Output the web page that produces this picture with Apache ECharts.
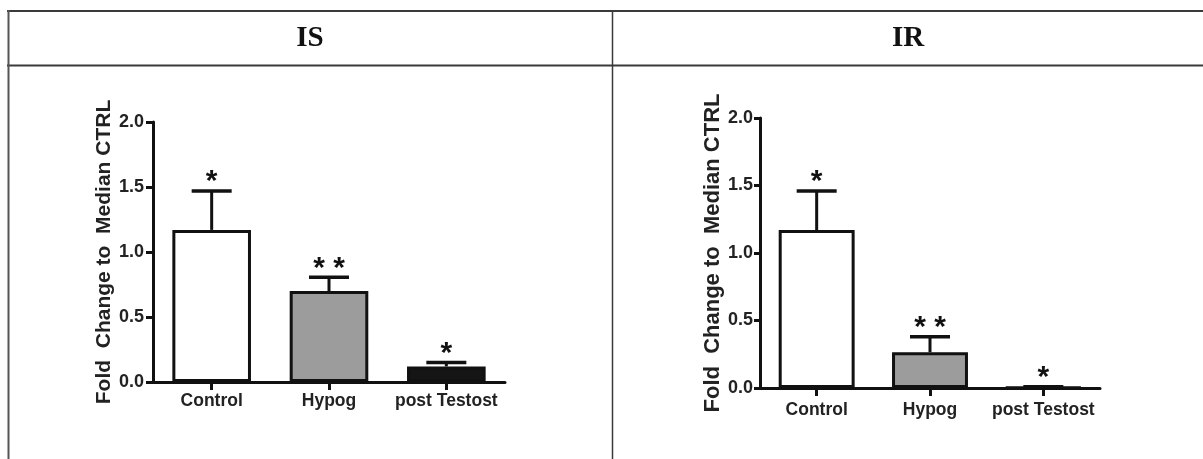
<!DOCTYPE html>
<html>
<head>
<meta charset="utf-8">
<script src="https://cdn.jsdelivr.net/npm/echarts@6/dist/echarts.min.js"></script>
<style>
  html, body { margin: 0; padding: 0; background: #ffffff; }
  #chart { width: 1203px; height: 459px; }
</style>
</head>
<body>
<div id="chart"></div>
<script>
// ---- data ----
const categories = ['Control', 'Hypog', 'post Testost'];
const isValues = [1.17, 0.70, 0.12];
const isErrors = [0.30, 0.105, 0.03];
const isStars = ['*', '* *', '*'];
const irValues = [1.17, 0.265, 0.005];
const irErrors = [0.29, 0.115, 0.005];
const irStars = ['*', '* *', '*'];
const panelTitles = ['IS', 'IR'];
const yAxisName = 'Fold  Change to  Median CTRL';
const yMin = 0, yMax = 2, yInterval = 0.5;

// ---- styles ----
const barColors = ['#ffffff', '#9c9c9c', '#151515'];
const ink = '#111111';
const sans = "'Liberation Sans', Arial, sans-serif";

const chart = echarts.init(document.getElementById('chart'), null, { renderer: 'canvas' });

function makeX(gridIndex, labelSize, margin) {
  return {
    type: 'category', gridIndex, data: categories, boundaryGap: true,
    axisLine: { show: true, lineStyle: { color: ink, width: 3 } },
    axisTick: { show: true, alignWithLabel: true, length: 8, lineStyle: { color: ink, width: 3 } },
    axisLabel: { interval: 0, color: '#222', fontFamily: sans, fontWeight: 'bold', fontSize: labelSize, margin },
    splitLine: { show: false }
  };
}
function makeY(gridIndex, labelSize, nameSize, nameGap, tickLen, margin) {
  return {
    type: 'value', gridIndex, min: yMin, max: yMax, interval: yInterval,
    name: yAxisName, nameLocation: 'middle', nameGap,
    nameTextStyle: { color: '#222', fontFamily: sans, fontWeight: 'bold', fontSize: nameSize },
    axisLine: { show: true, lineStyle: { color: ink, width: 3 } },
    axisTick: { show: true, length: tickLen, lineStyle: { color: ink, width: 3 } },
    axisLabel: { color: '#222', fontFamily: sans, fontWeight: 'bold', fontSize: labelSize, margin,
      formatter: v => v.toFixed(1) },
    splitLine: { show: false }
  };
}
function barSeries(idx, values) {
  return {
    type: 'bar', xAxisIndex: idx, yAxisIndex: idx, barWidth: '67%',
    data: values.map((v, i) => ({ value: v, itemStyle: { color: barColors[i] } })),
    itemStyle: { borderColor: ink, borderWidth: 3 },
    z: 2, silent: true
  };
}
function errSeries(idx, values, errors, stars, capHalf, starSize, starOff) {
  return {
    type: 'custom', xAxisIndex: idx, yAxisIndex: idx, z: 3, silent: true,
    data: values.map((v, i) => [i, v, errors[i]]),
    renderItem: function (params, api) {
      const c = api.value(0), v = api.value(1), e = api.value(2);
      const p0 = api.coord([c, v]);
      const p1 = api.coord([c, v + e]);
      return {
        type: 'group',
        children: [
          { type: 'line', shape: { x1: p0[0], y1: p0[1], x2: p1[0], y2: p1[1] },
            style: { stroke: ink, lineWidth: 3 } },
          { type: 'line', shape: { x1: p1[0] - capHalf, y1: p1[1], x2: p1[0] + capHalf, y2: p1[1] },
            style: { stroke: ink, lineWidth: 3.5 } },
          { type: 'text', x: p1[0], y: p1[1] - starOff,
            style: { text: stars[params.dataIndex], fill: ink, font: 'bold ' + starSize + 'px ' + sans,
              textAlign: 'center', textVerticalAlign: 'middle' } }
        ]
      };
    }
  };
}

const frame = '#3a3a3a';
chart.setOption({
  backgroundColor: '#ffffff',
  animation: false,
  grid: [
    { left: 153, top: 122, width: 352, height: 260 },
    { left: 760, top: 118, width: 340, height: 270 }
  ],
  xAxis: [makeX(0, 17.5, 10), makeX(1, 17.5, 13)],
  yAxis: [makeY(0, 18, 21, 36, 7, 9), makeY(1, 18, 22, 33, 6, 7)],
  series: [
    barSeries(0, isValues), errSeries(0, isValues, isErrors, isStars, 20, 30, 9),
    barSeries(1, irValues), errSeries(1, irValues, irErrors, irStars, 20, 30, 9)
  ],
  graphic: [
    { type: 'line', shape: { x1: 7, y1: 11, x2: 1203, y2: 11 }, style: { stroke: frame, lineWidth: 2 } },
    { type: 'line', shape: { x1: 7, y1: 65.5, x2: 1203, y2: 65.5 }, style: { stroke: frame, lineWidth: 2 } },
    { type: 'line', shape: { x1: 8.5, y1: 10, x2: 8.5, y2: 459 }, style: { stroke: '#555', lineWidth: 2 } },
    { type: 'line', shape: { x1: 612.5, y1: 10, x2: 612.5, y2: 459 }, style: { stroke: frame, lineWidth: 1.5 } },
    { type: 'text', x: 310, y: 39, style: { text: panelTitles[0], fill: '#111',
        font: "bold 29px 'Liberation Serif', 'Times New Roman', serif", textAlign: 'center', textVerticalAlign: 'middle' } },
    { type: 'text', x: 908, y: 39, style: { text: panelTitles[1], fill: '#111',
        font: "bold 29px 'Liberation Serif', 'Times New Roman', serif", textAlign: 'center', textVerticalAlign: 'middle' } }
  ]
});
</script>
</body>
</html>
